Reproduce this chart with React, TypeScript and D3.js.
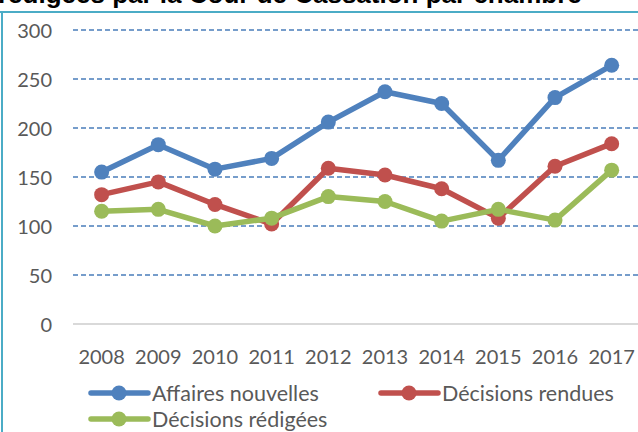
import React from "react";
import * as d3 from "d3";

const years = ["2008", "2009", "2010", "2011", "2012", "2013", "2014", "2015", "2016", "2017"];
const affairesNouvelles = [155, 183, 158, 169, 206, 237, 225, 167, 231, 264];
const decisionsRendues = [132, 145, 122, 102, 159, 152, 138, 108, 161, 184];
const decisionsRedigees = [115, 117, 100, 108, 130, 125, 105, 117, 106, 157];
const yTicks = [0, 50, 100, 150, 200, 250, 300];

const series = [
  { name: "Affaires nouvelles", values: affairesNouvelles, color: "#4F81BD" },
  { name: "Décisions rendues", values: decisionsRendues, color: "#C0504D" },
  { name: "Décisions rédigées", values: decisionsRedigees, color: "#9BBB59" },
];

const font = "Lato, 'Open Sans', sans-serif";

export default function App() {
  const width = 638;
  const height = 432;

  // point scale: first year sits half a step in from the plot's left edge
  const x = d3.scalePoint<string>().domain(years).range([73.3, 640]).padding(0.5);
  const y = d3.scaleLinear().domain([0, 300]).range([324, 30]);

  const line = d3
    .line<number>()
    .x((_, i) => x(years[i]) as number)
    .y((d) => y(d));

  const legendPos = [
    { x: 91, y: 393 },
    { x: 381, y: 393 },
    { x: 91, y: 419 },
  ];

  return (
    <svg
      width={width}
      height={height}
      style={{ position: "absolute", left: 0, top: 0, display: "block", background: "#fff" }}
    >
      {/* title (cut off at the top in the source) and frame */}
      <text x={-2} y={3} fontFamily="'Liberation Sans', Arial, sans-serif" fontWeight="bold" fontSize={26} fill="#000">
        rédigées par la Cour de Cassation par chambre
      </text>
      <line x1={0} x2={width} y1={12} y2={12} stroke="#4BACC6" strokeWidth={2} />
      <line x1={2} x2={2} y1={12} y2={height} stroke="#4BACC6" strokeWidth={2} />

      {/* gridlines */}
      {yTicks.map((t) =>
        t === 0 ? (
          <line key={t} x1={73} x2={width} y1={y(t)} y2={y(t)} stroke="#D9D9D9" strokeWidth={2} />
        ) : (
          <line
            key={t}
            x1={73}
            x2={width}
            y1={y(t)}
            y2={y(t)}
            stroke="#4A7EBB"
            strokeWidth={1.6}
            strokeDasharray="5,3"
          />
        )
      )}

      {/* y labels */}
      {yTicks.map((t) => (
        <text
          key={t}
          x={52}
          y={y(t)}
          textAnchor="end"
          dominantBaseline="central"
          fontFamily={font}
          fontSize={20}
          fill="#595959"
        >
          {t}
        </text>
      ))}

      {/* x labels */}
      {years.map((yr) => (
        <text
          key={yr}
          x={x(yr)}
          y={356}
          textAnchor="middle"
          dominantBaseline="central"
          fontFamily={font}
          fontSize={20}
          fill="#595959"
        >
          {yr}
        </text>
      ))}

      {/* series */}
      {series.map((s) => (
        <g key={s.name}>
          <path d={line(s.values) || ""} fill="none" stroke={s.color} strokeWidth={5.5} strokeLinejoin="round" />
          {s.values.map((v, i) => (
            <circle key={i} cx={x(years[i])} cy={y(v)} r={7.5} fill={s.color} />
          ))}
        </g>
      ))}

      {/* legend */}
      {series.map((s, i) => {
        const p = legendPos[i];
        return (
          <g key={s.name}>
            <line x1={p.x} x2={p.x + 57} y1={p.y} y2={p.y} stroke={s.color} strokeWidth={5.5} strokeLinecap="round" />
            <circle cx={p.x + 28} cy={p.y} r={7.5} fill={s.color} />
            <text
              x={p.x + 61}
              y={p.y}
              dominantBaseline="central"
              fontFamily={font}
              fontSize={21.5}
              fill="#595959"
            >
              {s.name}
            </text>
          </g>
        );
      })}
    </svg>
  );
}
